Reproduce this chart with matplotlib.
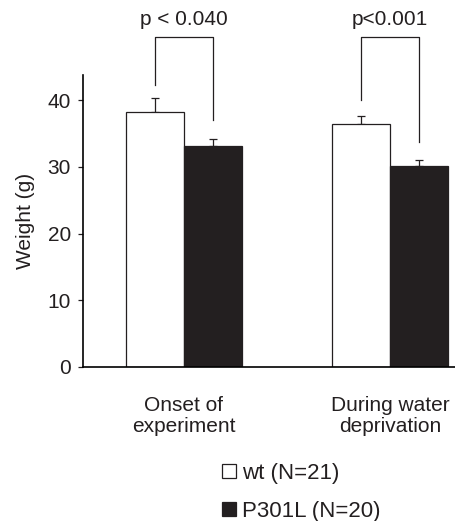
import numpy as np
import matplotlib.pyplot as plt
from matplotlib.patches import Patch

plt.rcParams['font.family'] = ['Liberation Sans', 'DejaVu Sans']
plt.rcParams['font.size'] = 15

groups = ['Onset of\nexperiment', 'During water\ndeprivation']
wt_mean = [38.2, 36.4]
wt_err = [2.2, 1.3]
tg_mean = [33.2, 30.2]
tg_err = [1.05, 0.85]
p_labels = ['p < 0.040', 'p<0.001']
bracket_legs = [(42.3, 37.0), (40.1, 33.8)]
legend_labels = ['wt (N=21)', 'P301L (N=20)']

dark = '#231f20'
x = np.arange(len(groups))
w = 0.2816

fig = plt.figure(figsize=(4.55, 5.21), dpi=100)
ax = fig.add_axes([83/455, 154/521, 372/455, 292/521])

ax.bar(x - w/2, wt_mean, w, color='white', edgecolor=dark, linewidth=0.9, zorder=2)
ax.bar(x + w/2, tg_mean, w, color=dark, edgecolor=dark, linewidth=0.9, zorder=2)
ax.errorbar(x - w/2, wt_mean, yerr=[np.zeros(2), wt_err], fmt='none', ecolor=dark,
            elinewidth=0.9, capsize=2.6, capthick=0.9, zorder=1)
ax.errorbar(x + w/2, tg_mean, yerr=[np.zeros(2), tg_err], fmt='none', ecolor=dark,
            elinewidth=0.9, capsize=2.6, capthick=0.9, zorder=1)

# significance brackets
top = 49.5
for i in range(len(groups)):
    l, r = bracket_legs[i]
    ax.plot([x[i] - w/2, x[i] - w/2, x[i] + w/2, x[i] + w/2], [l, top, top, r],
            color=dark, lw=0.9, clip_on=False)
    ax.text(x[i], 51.3, p_labels[i], ha='center', va='baseline', color=dark)

ax.set_xlim(-0.49, 1.316)
ax.set_ylim(0, 43.8)
ax.set_yticks([0, 10, 20, 30, 40])
ax.set_xticks(x)
ax.set_xticklabels(groups, linespacing=1.12, color=dark)
ax.tick_params(axis='x', length=0, pad=21)
ax.tick_params(axis='y', length=3.6, width=0.9, pad=5, color=dark, labelcolor=dark)
ax.spines['top'].set_visible(False)
ax.spines['right'].set_visible(False)
ax.spines['left'].set_linewidth(1.2)
ax.spines['bottom'].set_linewidth(1.2)
ax.set_ylabel('Weight (g)', labelpad=9, color=dark)

handles = [Patch(facecolor='white', edgecolor=dark, linewidth=0.9),
           Patch(facecolor=dark, edgecolor=dark, linewidth=0.9)]
fig.legend(handles, legend_labels, loc='upper left', bbox_to_anchor=(222/455, 1 - 463/521),
           frameon=False, borderpad=0, borderaxespad=0, handlelength=0.63, handleheight=0.63,
           handletextpad=0.27, labelspacing=0.75, labelcolor=dark, fontsize=16)

plt.savefig('out.png', dpi=100)
